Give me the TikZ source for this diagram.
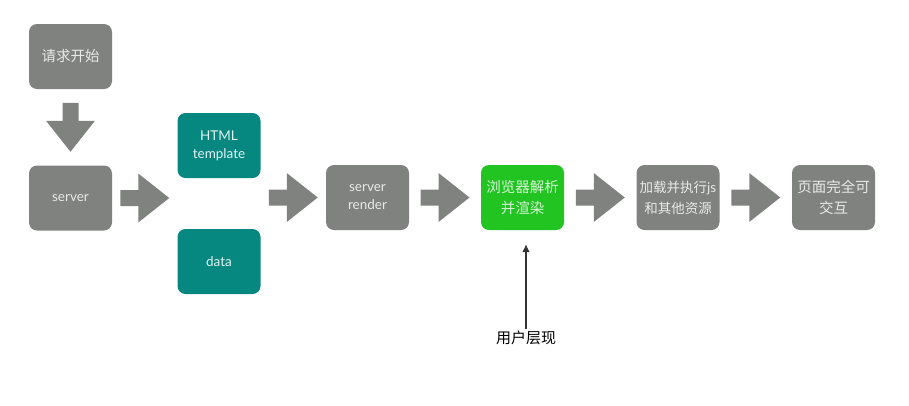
\documentclass[tikz,border=0pt]{standalone}
\usepackage{fontspec}
\setmainfont{Lato}
\newfontfamily\cjk{Noto Sans CJK SC}
\usetikzlibrary{arrows.meta,calc}
\definecolor{boxgray}{RGB}{128,130,128}
\definecolor{graytext}{RGB}{232,234,232}
\definecolor{tealbox}{RGB}{6,136,128}
\definecolor{tealtext}{RGB}{226,242,240}
\definecolor{greenbox}{RGB}{34,196,34}
\definecolor{greentext}{RGB}{214,244,214}
\definecolor{linegray}{RGB}{51,51,51}

\tikzset{
  box/.style={rounded corners=8pt, minimum width=83pt, minimum height=65pt,
    inner sep=0pt, align=center},
  graybox/.style={box, fill=boxgray, text=graytext},
  tealbx/.style={box, fill=tealbox, text=tealtext},
  greenbx/.style={box, fill=greenbox, text=greentext},
  lat/.style={font=\fontsize{13.5}{18}\selectfont},
  han/.style={font=\fontsize{14.5}{21}\selectfont\cjk},
  hansmall/.style={font=\fontsize{13.5}{21}\selectfont\cjk},
}
% fat block arrow centred at #1, turned by #2
\newcommand{\fatarrow}[2]{%
  \fill[boxgray, shift={#1}, rotate=#2]
    (-24.5,-8) -- (-6.5,-8) -- (-6.5,-24.5) -- (24.5,0)
    -- (-6.5,24.5) -- (-6.5,8) -- (-24.5,8) -- cycle;}

\begin{document}
\begin{tikzpicture}[x=1pt, y=-1pt]
  \useasboundingbox (0,0) rectangle (909,405);

  \node[graybox, han] (start) at (70.5,56.5) {请求开始};
  \node[graybox, lat] (server) at (70.5,198) {server};
  \node[tealbx, lat] (tmpl) at (219,145.5) {HTML\\template};
  \node[tealbx, lat] (data) at (219,261.5) {data};
  \node[graybox, lat] (render) at (367.5,197.5) {server\\render};
  \node[greenbx, han] (browser) at (522.5,197.5) {浏览器解析\\并渲染};
  \node[graybox, hansmall] (load) at (678,197.5) {加载并执行{\fontspec{Lato}js}\\和其他资源};
  \node[graybox, han] (done) at (833.5,197.5) {页面完全可\\交互};
  \node[font=\fontsize{15}{18}\selectfont\cjk, inner sep=2pt] (user) at (526,338) {用户层现};

  \fatarrow{($(start.south)!.5!(server.north)$)}{-90}
  \fatarrow{($(server.east)!.5!(server.east -| tmpl.west)$)}{0}
  \fatarrow{($(render.west)!.5!(render.west -| tmpl.east)$)}{0}
  \fatarrow{($(render.east)!.5!(browser.west)$)}{0}
  \fatarrow{($(browser.east)!.5!(load.west)$)}{0}
  \fatarrow{($(load.east)!.5!(done.west)$)}{0}

  \draw[linegray, line width=1.6pt, -{Latex[length=8pt,width=8pt]}, shorten >=14pt]
    (user.north) -- (user.north |- browser.south);
\end{tikzpicture}
\end{document}
